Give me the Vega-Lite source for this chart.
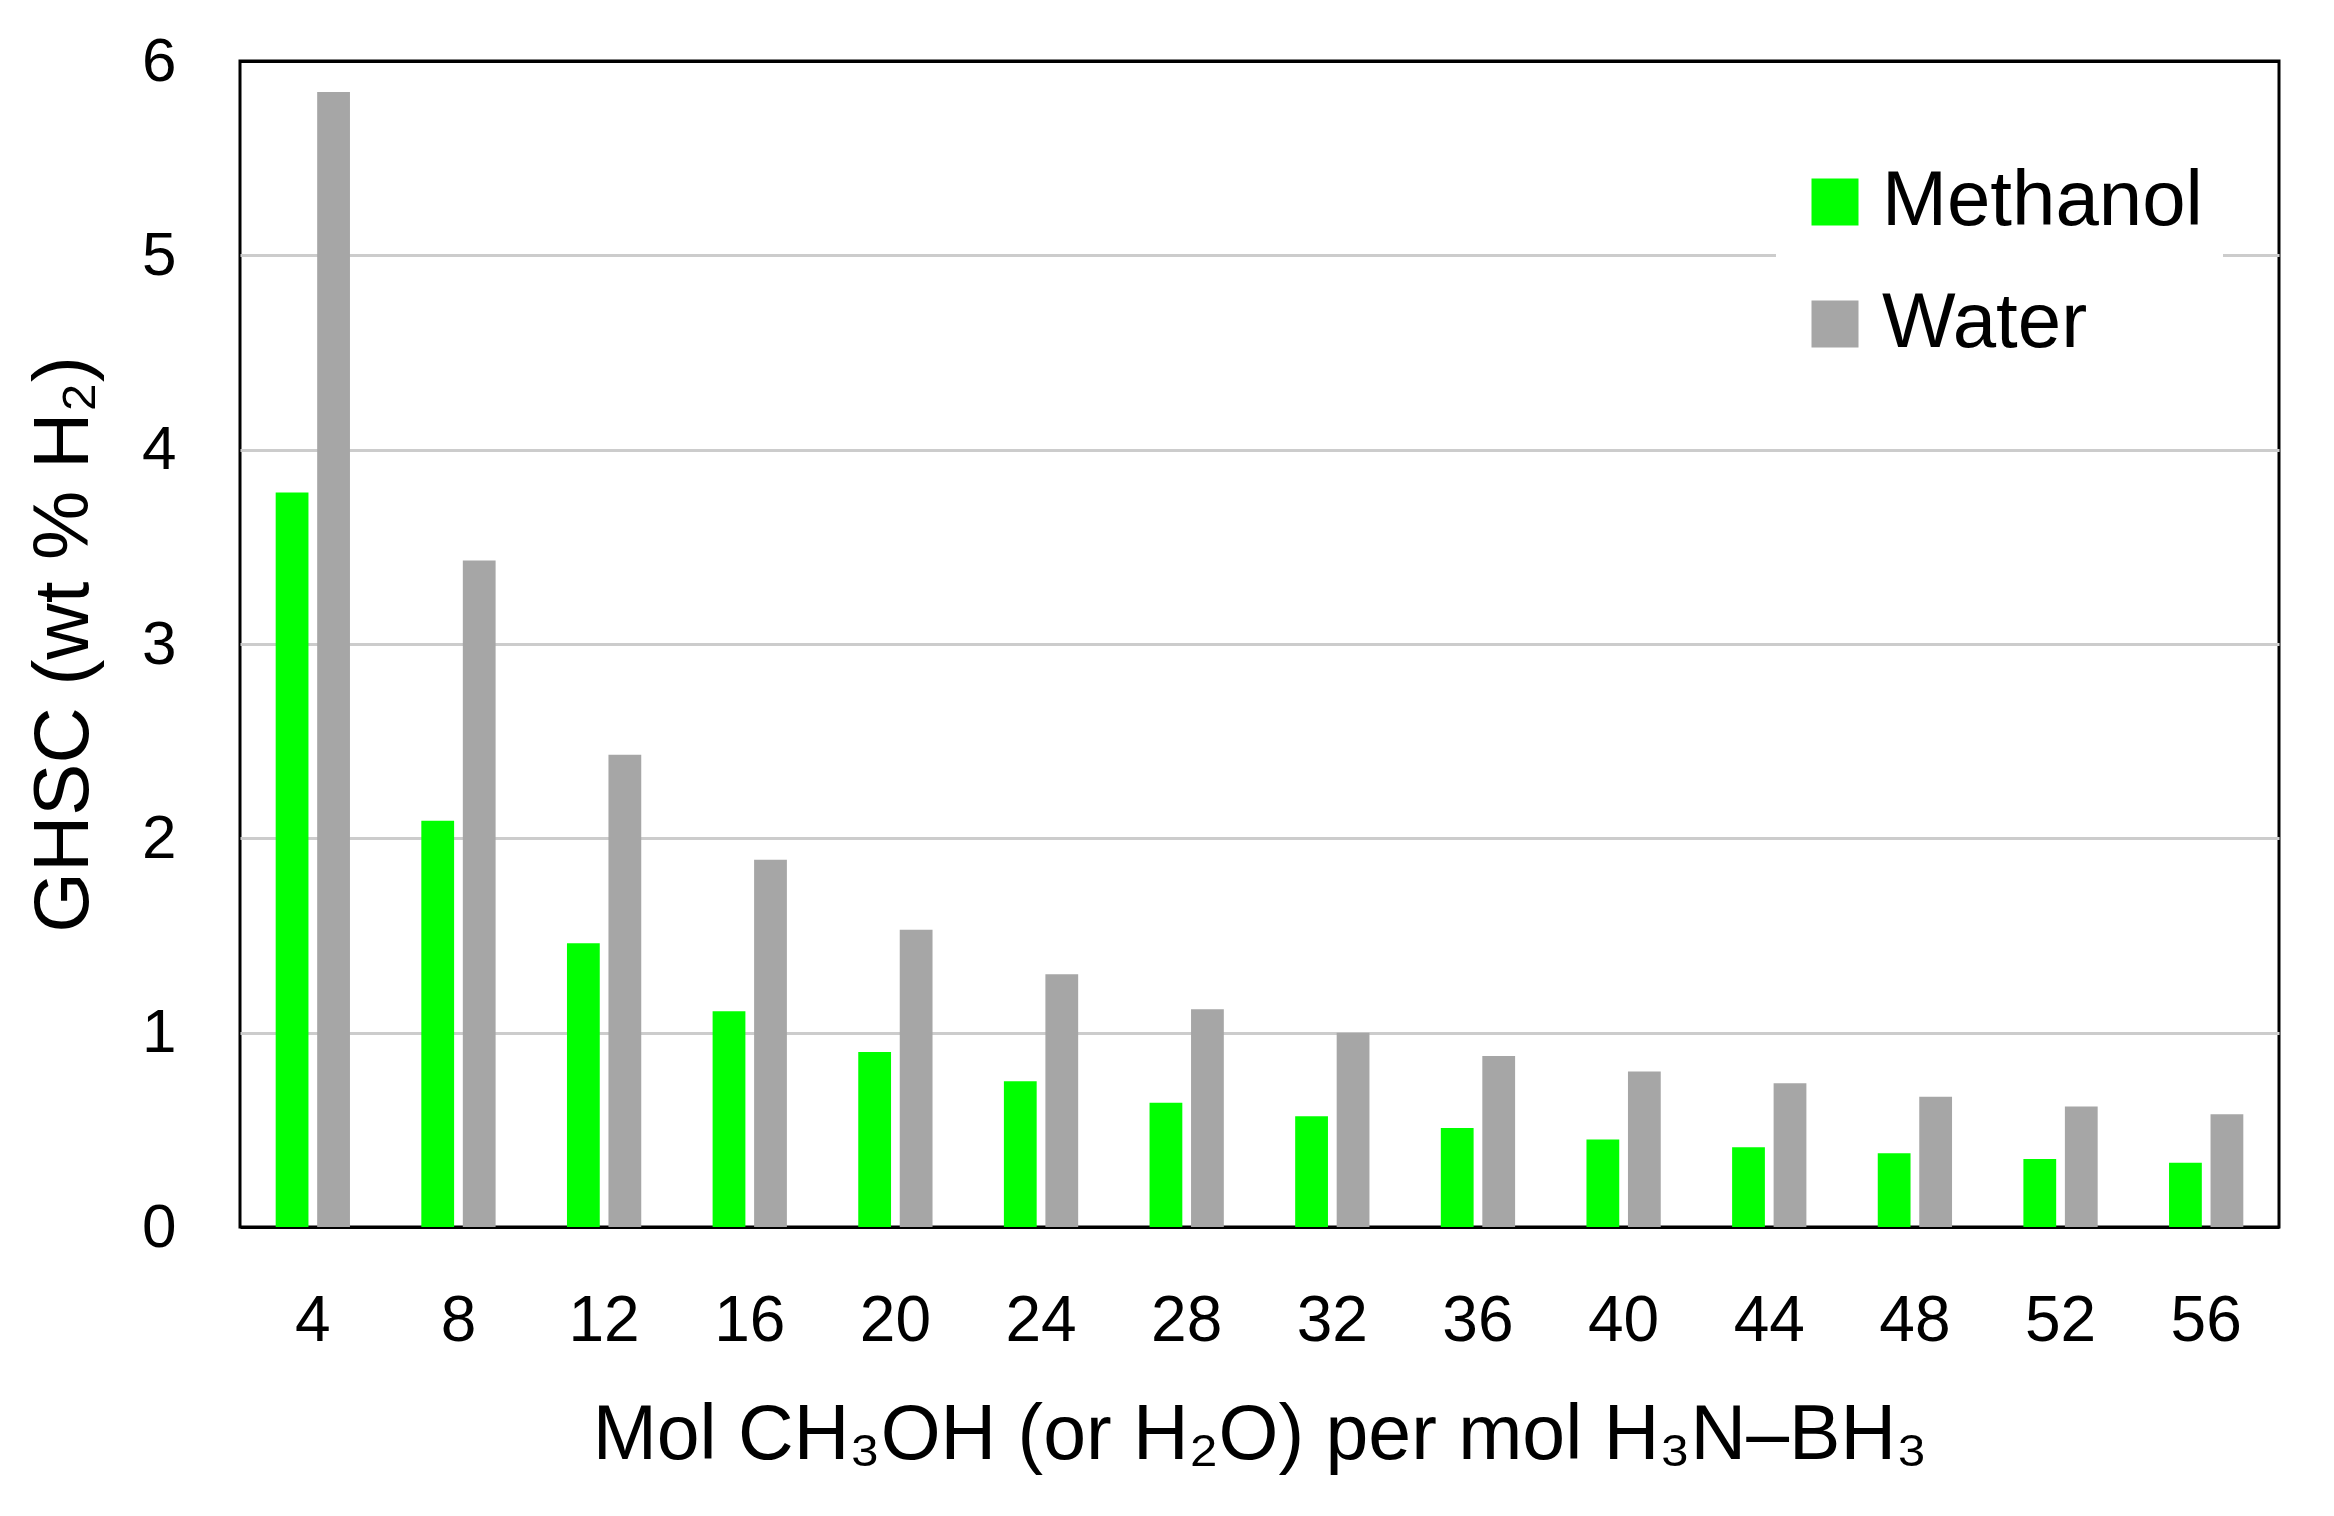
{
  "$schema": "https://vega.github.io/schema/vega-lite/v6.json",
  "width": 2039,
  "height": 1166,
  "autosize": {"type": "none"},
  "padding": {"left": 240, "top": 61, "right": 55, "bottom": 289},
  "background": "white",
  "config": {
    "font": "Liberation Sans",
    "view": {"stroke": "black", "strokeWidth": 3},
    "axis": {"labelColor": "black", "titleColor": "black", "titleFontWeight": "normal"}
  },
  "data": {
    "values": [
      {"n": 4, "solvent": "Methanol", "ghsc": 3.78},
      {"n": 8, "solvent": "Methanol", "ghsc": 2.09},
      {"n": 12, "solvent": "Methanol", "ghsc": 1.46},
      {"n": 16, "solvent": "Methanol", "ghsc": 1.11},
      {"n": 20, "solvent": "Methanol", "ghsc": 0.90},
      {"n": 24, "solvent": "Methanol", "ghsc": 0.75},
      {"n": 28, "solvent": "Methanol", "ghsc": 0.64},
      {"n": 32, "solvent": "Methanol", "ghsc": 0.57},
      {"n": 36, "solvent": "Methanol", "ghsc": 0.51},
      {"n": 40, "solvent": "Methanol", "ghsc": 0.45},
      {"n": 44, "solvent": "Methanol", "ghsc": 0.41},
      {"n": 48, "solvent": "Methanol", "ghsc": 0.38},
      {"n": 52, "solvent": "Methanol", "ghsc": 0.35},
      {"n": 56, "solvent": "Methanol", "ghsc": 0.33},
      {"n": 4, "solvent": "Water", "ghsc": 5.84},
      {"n": 8, "solvent": "Water", "ghsc": 3.43},
      {"n": 12, "solvent": "Water", "ghsc": 2.43},
      {"n": 16, "solvent": "Water", "ghsc": 1.89},
      {"n": 20, "solvent": "Water", "ghsc": 1.53},
      {"n": 24, "solvent": "Water", "ghsc": 1.30},
      {"n": 28, "solvent": "Water", "ghsc": 1.12},
      {"n": 32, "solvent": "Water", "ghsc": 1.00},
      {"n": 36, "solvent": "Water", "ghsc": 0.88},
      {"n": 40, "solvent": "Water", "ghsc": 0.80},
      {"n": 44, "solvent": "Water", "ghsc": 0.74},
      {"n": 48, "solvent": "Water", "ghsc": 0.67},
      {"n": 52, "solvent": "Water", "ghsc": 0.62},
      {"n": 56, "solvent": "Water", "ghsc": 0.58}
    ]
  },
  "mark": {"type": "bar"},
  "encoding": {
    "x": {
      "field": "n",
      "type": "ordinal",
      "sort": "ascending",
      "scale": {"paddingInner": 0.49, "paddingOuter": 0.245},
      "axis": {
        "title": "Mol CH₃OH (or H₂O) per mol H₃N–BH₃",
        "labelAngle": 0,
        "labelFontSize": 64,
        "labelPadding": 62,
        "ticks": false,
        "domain": false,
        "titleFontSize": 77,
        "titlePadding": 44
      }
    },
    "xOffset": {
      "field": "solvent",
      "type": "nominal",
      "scale": {"paddingInner": 0.21, "paddingOuter": 0}
    },
    "y": {
      "field": "ghsc",
      "type": "quantitative",
      "scale": {"domain": [0, 6], "nice": false},
      "axis": {
        "title": "GHSC (wt % H₂)",
        "values": [0, 1, 2, 3, 4, 5, 6],
        "labelFontSize": 62,
        "labelPadding": 64,
        "ticks": false,
        "domain": false,
        "grid": true,
        "gridColor": {"condition": {"test": "datum.value === 0 || datum.value === 6", "value": "black"}, "value": "#cccccc"},
        "gridWidth": 3,
        "titleFontSize": 78,
        "titlePadding": 38
      }
    },
    "color": {
      "field": "solvent",
      "type": "nominal",
      "scale": {"domain": ["Methanol", "Water"], "range": ["#00FF00", "#A6A6A6"]},
      "legend": {
        "title": null,
        "orient": "none",
        "legendX": 1536,
        "legendY": 82,
        "padding": 20,
        "fillColor": "white",
        "symbolType": "square",
        "symbolSize": 2209,
        "symbolStrokeWidth": 0,
        "symbolOpacity": 1,
        "labelFontSize": 78,
        "labelLimit": 1000,
        "labelOffset": 8,
        "labelColor": "black",
        "rowPadding": 44
      }
    }
  }
}
